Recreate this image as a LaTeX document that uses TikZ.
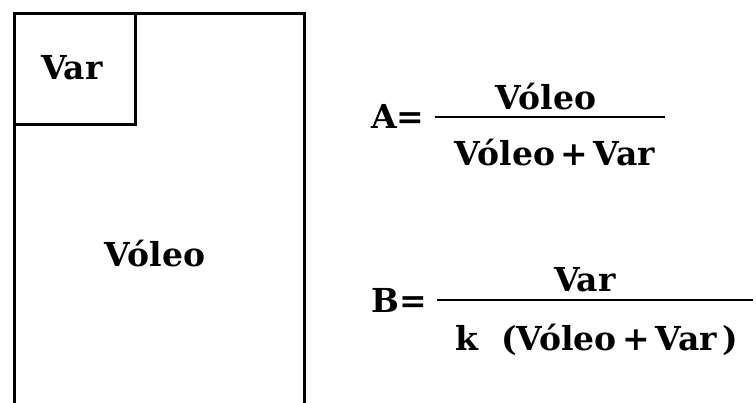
\documentclass[tikz,border=0pt]{standalone}
\usepackage{fontspec}
\setmainfont{DejaVu Serif}
\begin{document}
\begin{tikzpicture}[x=1pt,y=-1pt,
  lbl/.style={inner sep=0pt,font=\fontsize{33}{39}\selectfont\bfseries},
  boxline/.style={line width=3pt,line cap=rect},
  frac/.style={line width=2.6pt}]
\useasboundingbox[fill=white] (0,0) rectangle (756,403);
% outer open-bottom rectangle
\draw[boxline] (14,405) -- (14,14) -- (304,14) -- (304,405);
% small box
\draw[boxline] (14,125) -- (135,125) -- (135,14);
\node[lbl] (var) at (72,68) {Var};
\node[lbl] (voleo) at (155,254) {Vóleo};
% formula A
\node[lbl,anchor=west] (A) at (371,116) {A=};
\coordinate (a1) at (435,117);
\coordinate (a2) at (665,117);
\draw[frac] (a1) -- (a2);
\node[lbl] (An) at (546,97) {Vóleo};
\node[lbl] (Ad) at (555,153) {Vóleo\,+\,Var};
% formula B
\node[lbl,anchor=west] (B) at (371,300) {B=};
\coordinate (b1) at (437,300);
\coordinate (b2) at (753,300);
\draw[frac] (b1) -- (b2);
\node[lbl] (Bn) at (585,280) {Var};
\node[lbl,anchor=west] (Bd) at (455,340) {k\ \ (Vóleo\,+\,Var\,)};
\end{tikzpicture}
\end{document}
